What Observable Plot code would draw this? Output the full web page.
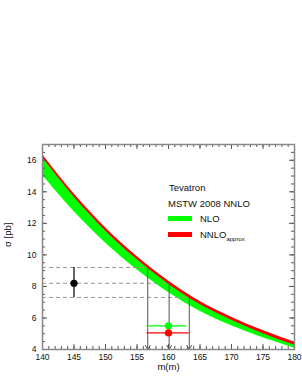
<!DOCTYPE html>
<html>
<head>
<meta charset="utf-8">
<script src="https://cdn.jsdelivr.net/npm/d3@7"></script>
<script src="https://cdn.jsdelivr.net/npm/@observablehq/plot@0.6"></script>
<style>
  html, body { margin: 0; padding: 0; background: white; }
  #wrap { position: relative; width: 302px; height: 391px; font-family: "Liberation Sans", Arial, sans-serif; }
  .lg { position: absolute; font-size: 9.5px; line-height: 10px; color: #111; white-space: nowrap; }
  .sw { position: absolute; width: 24px; height: 5px; }
  sub { font-size: 6px; vertical-align: -3px; }
</style>
</head>
<body>
<div id="wrap">
  <div id="chart"></div>
  <div class="lg" style="left:169px; top:183px;">Tevatron</div>
  <div class="lg" style="left:168px; top:199px;">MSTW 2008 NNLO</div>
  <div class="sw" style="left:168px; top:216px; background:#00ff00;"></div>
  <div class="lg" style="left:200px; top:214px;">NLO</div>
  <div class="sw" style="left:168px; top:232px; background:#ff0000;"></div>
  <div class="lg" style="left:200px; top:230px;">NNLO<sub>approx</sub></div>
</div>
<script>
// top-quark mass grid (GeV)
const masses = [140, 145, 150, 155, 160, 165, 170, 175, 180];
// NNLO_approx band (pb)
const nnloHigh = [16.37, 13.87, 11.72, 9.90, 8.34, 7.05, 6.05, 5.20, 4.47];
const nnloLow  = [16.13, 13.63, 11.48, 9.66, 8.10, 6.81, 5.81, 4.96, 4.23];
// NLO band (pb)
const nloHigh  = [16.17, 13.67, 11.52, 9.70, 8.14, 6.85, 5.85, 5.00, 4.27];
const nloLow   = [15.05, 12.75, 10.75, 9.06, 7.62, 6.43, 5.51, 4.74, 4.08];

// measured cross section: upper, central, lower
const measured = [9.2, 8.2, 7.3];
const measuredMass = 145;
// extracted masses where measurement crosses theory curve
const crossMass = [156.7, 160.1, 163.3];

// extracted mass results
const nloPoint = {m: 160.0, s: 5.5, lo: 156.6, hi: 162.9};
const nnloPoint = {m: 160.0, s: 5.05, lo: 156.6, hi: 163.3};

// ticks
const xMajor = [140, 145, 150, 155, 160, 165, 170, 175, 180];
const xMinor = d3.range(140, 181, 1);
const yMajor = [4, 6, 8, 10, 12, 14, 16];
const yMinor = d3.range(4, 17.01, 0.5);

const band = masses.map((m, i) => ({m, nh: nnloHigh[i], nl: nnloLow[i], gh: nloHigh[i], gl: nloLow[i]}));
const idx = [0, 1, 2];

const innerW = 252, innerH = 205;
const tickCol = "#555";

const chart = Plot.plot({
  width: 302,
  height: 391,
  marginTop: 144,
  marginRight: 8,
  marginBottom: 42,
  marginLeft: 42,
  x: {domain: [140, 180]},
  y: {domain: [4, 17]},
  style: {fontFamily: "Liberation Sans, Arial, sans-serif", fontSize: "8.5px", background: "white", color: "#111"},
  marks: [
    // bands
    Plot.areaY(band, {x: "m", y1: "nl", y2: "nh", fill: "#ff0000", curve: "monotone-x"}),
    Plot.areaY(band, {x: "m", y1: "gl", y2: "gh", fill: "#00ff00", curve: "monotone-x"}),
    // dashed measurement lines
    Plot.ruleY(idx, {y: i => measured[i], x1: 140, x2: i => crossMass[i], stroke: "#999", strokeDasharray: "4,3", strokeWidth: 1}),
    // vertical arrows
    Plot.arrow(idx, {x1: i => crossMass[i], y1: i => measured[i], x2: i => crossMass[i], y2: 4, stroke: "#555", strokeWidth: 1, headLength: 7, headAngle: 60}),
    // measurement point
    Plot.ruleX([0], {x: measuredMass, y1: measured[2], y2: measured[0], stroke: "#111", strokeWidth: 1.3}),
    Plot.dot([0], {x: measuredMass, y: measured[1], r: 3.6, fill: "#000"}),
    // extracted masses
    Plot.ruleY([nloPoint], {y: "s", x1: "lo", x2: "hi", stroke: "#00ff00", strokeWidth: 1.2}),
    Plot.dot([nloPoint], {x: "m", y: "s", r: 3.6, fill: "#00ff00"}),
    Plot.ruleY([nnloPoint], {y: "s", x1: "lo", x2: "hi", stroke: "#ff0000", strokeWidth: 1.2}),
    Plot.dot([nnloPoint], {x: "m", y: "s", r: 3.6, fill: "#ff0000"}),
    // inward ticks
    Plot.tickX(xMinor, {x: d => d, insetTop: innerH - 3, stroke: tickCol}),
    Plot.tickX(xMajor, {x: d => d, insetTop: innerH - 5, stroke: tickCol}),
    Plot.tickX(xMinor, {x: d => d, insetBottom: innerH - 3, stroke: tickCol}),
    Plot.tickX(xMajor, {x: d => d, insetBottom: innerH - 5, stroke: tickCol}),
    Plot.tickY(yMinor, {y: d => d, insetRight: innerW - 3, stroke: tickCol}),
    Plot.tickY(yMajor, {y: d => d, insetRight: innerW - 5, stroke: tickCol}),
    Plot.tickY(yMinor, {y: d => d, insetLeft: innerW - 3, stroke: tickCol}),
    Plot.tickY(yMajor, {y: d => d, insetLeft: innerW - 5, stroke: tickCol}),
    Plot.frame({stroke: "#888", strokeWidth: 1.5}),
    // tick labels
    Plot.axisX(xMajor, {tickSize: 0, tickPadding: 4, label: null}),
    Plot.axisY(yMajor, {tickSize: 0, tickPadding: 6, label: null}),
    // axis titles
    Plot.text([0], {frameAnchor: "bottom", dy: 20, text: () => "m(m)", fontSize: 9.5}),
    Plot.text([0], {frameAnchor: "left", dx: -35, dy: 0, rotate: -90, text: () => "σ [pb]", fontSize: 9.5})
  ]
});
document.getElementById("chart").appendChild(chart);
</script>
</body>
</html>
